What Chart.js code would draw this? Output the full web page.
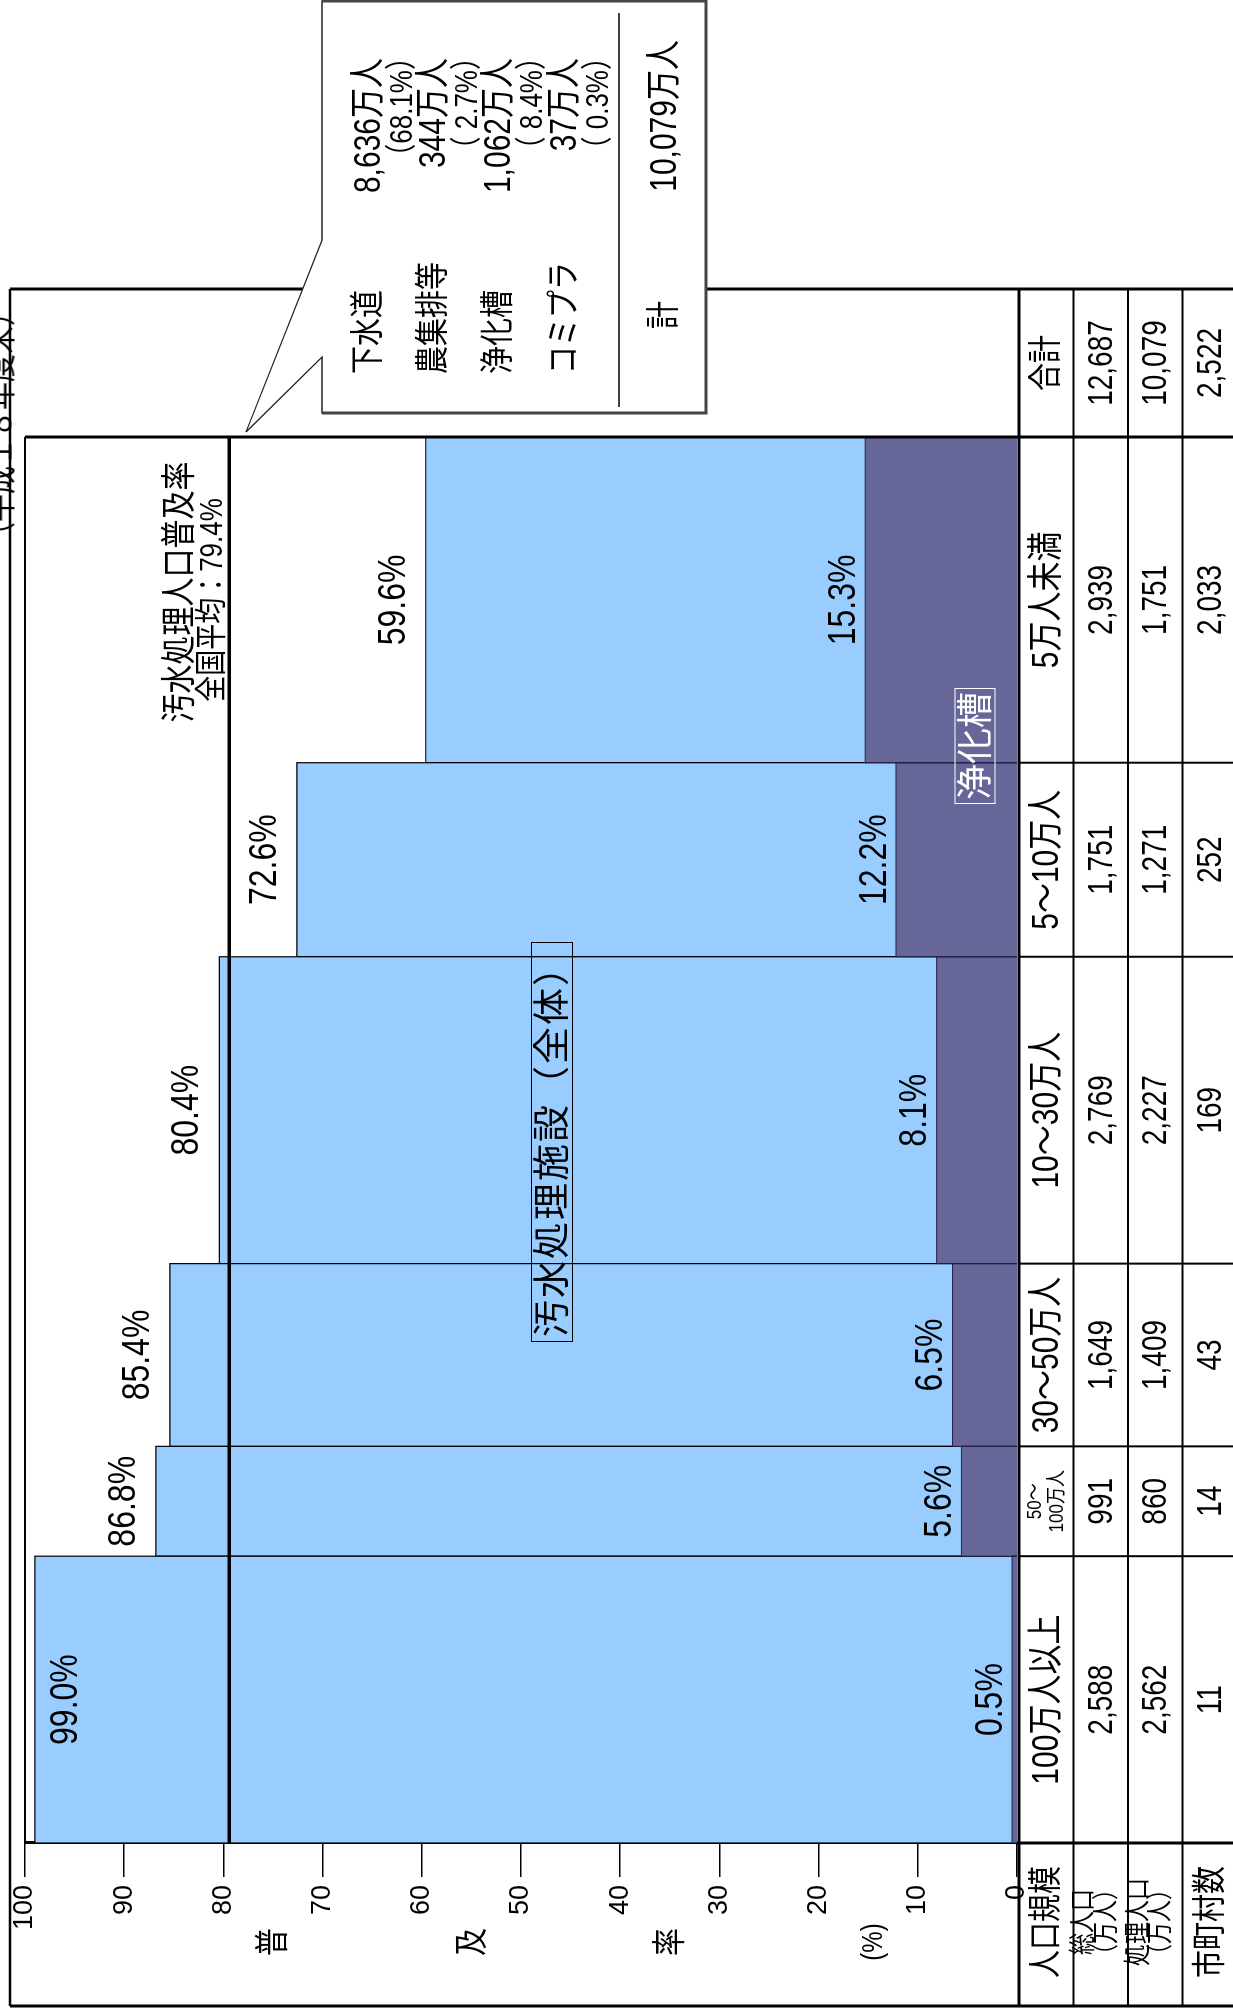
<!DOCTYPE html>
<html lang="ja">
<head>
<meta charset="utf-8">
<title>人口規模別汚水処理人口普及率</title>
<script src="https://cdn.jsdelivr.net/npm/chart.js@4.4.1/dist/chart.umd.min.js"></script>
<style>
html, body { margin: 0; padding: 0; background: #fff; }
body { width: 1233px; height: 2010px; overflow: hidden; position: relative; }
/* the chart is laid out landscape and turned a quarter to the left */
#stage {
  position: absolute; left: 0; top: 0; width: 2010px; height: 1233px;
  transform-origin: 0 0; transform: translate(0, 2010px) rotate(-90deg);
  font-family: "Liberation Sans", "Noto Sans CJK JP", sans-serif; color: #000;
}
#stage canvas, #stage svg { position: absolute; left: 0; top: 0; }
.t { position: absolute; white-space: nowrap; line-height: 1; }
</style>
</head>
<body>
<div id="stage">
  <canvas id="chart" width="2010" height="1233"></canvas>
  <svg id="lines" width="2010" height="1233"></svg>
  <div id="texts"></div>
  <svg id="callout" width="2010" height="1233"></svg>
  <div id="calloutTexts"></div>
</div>
<script>
const categories = ['100万人以上', '50～100万人', '30～50万人', '10～30万人', '5～10万人', '5万人未満'];
const totalPopulation = [2588, 991, 1649, 2769, 1751, 2939];     // 総人口（万人）
const treatedPopulation = [2562, 860, 1409, 2227, 1271, 1751];   // 処理人口（万人）
const municipalities = [11, 14, 43, 169, 252, 2033];              // 市町村数
const coverageRate = [99.0, 86.8, 85.4, 80.4, 72.6, 59.6];        // 汚水処理人口普及率（%）
const septicRate = [0.5, 5.6, 6.5, 8.1, 12.2, 15.3];              // うち浄化槽（%）
const totalColumn = [12687, 10079, 2522];                         // 合計
const nationalAverage = 79.4;
const rateTicks = [0, 10, 20, 30, 40, 50, 60, 70, 80, 90, 100];

const breakdownLabels = ['下水道', '農集排等', '浄化槽', 'コミプラ'];
const breakdownPopulation = [8636, 344, 1062, 37];
const breakdownShare = [68.1, 2.7, 8.4, 0.3];
const breakdownTotal = 10079;

const FONT = '"Liberation Sans", "Noto Sans CJK JP", sans-serif';
const BLUE = '#99CCFF';
const PURPLE = '#666699';
const STRETCH = 1.22; // the source text is drawn taller than it is wide

// bar widths follow the population of each class
const edges = [0];
totalPopulation.forEach(p => edges.push(edges[edges.length - 1] + p));

function block(i, rate) {
  return [
    { x: edges[i], y: 0 }, { x: edges[i], y: rate },
    { x: edges[i + 1], y: rate }, { x: edges[i + 1], y: 0 }
  ];
}

const datasets = [{
  data: [{ x: 0, y: nationalAverage }, { x: edges[edges.length - 1], y: nationalAverage }],
  borderColor: '#000', borderWidth: 3.5, fill: false, order: 0
}];
categories.forEach((c, i) => {
  datasets.push({ data: block(i, septicRate[i]), backgroundColor: PURPLE, borderColor: '#222244',
    borderWidth: 1, fill: 'origin', order: 1 });
});
categories.forEach((c, i) => {
  datasets.push({ data: block(i, coverageRate[i]), backgroundColor: BLUE, borderColor: '#000',
    borderWidth: 1.2, fill: 'origin', order: 2 });
});

function stretchedText(ctx, str, x, y) {
  ctx.save();
  ctx.translate(x, y);
  ctx.scale(1, STRETCH);
  ctx.fillText(str, 0, 0);
  ctx.restore();
}

const barLabels = {
  id: 'barLabels',
  afterDatasetsDraw(chart) {
    const { ctx, scales: { x, y } } = chart;
    ctx.save();
    ctx.font = '32px ' + FONT;
    ctx.fillStyle = '#000';
    ctx.textAlign = 'center';
    ctx.textBaseline = 'middle';
    categories.forEach((c, i) => {
      const cx = x.getPixelForValue(edges[i] + totalPopulation[i] / 2);
      const top = y.getPixelForValue(coverageRate[i]);
      stretchedText(ctx, coverageRate[i].toFixed(1) + '%', cx, coverageRate[i] > 95 ? top + 31 : top - 32);
      stretchedText(ctx, septicRate[i].toFixed(1) + '%', cx, y.getPixelForValue(septicRate[i]) - 21);
    });
    ctx.restore();
  }
};

const chart = new Chart(document.getElementById('chart'), {
  type: 'line',
  data: { datasets: datasets },
  options: {
    responsive: false,
    animation: false,
    devicePixelRatio: 1,
    layout: { padding: { left: 0, top: 25, right: 437, bottom: 216 } },
    elements: { point: { radius: 0 }, line: { tension: 0 } },
    plugins: { legend: { display: false }, tooltip: { enabled: false } },
    scales: {
      x: { type: 'linear', min: 0, max: edges[edges.length - 1], display: false },
      y: {
        min: 0, max: 100,
        afterFit: s => { s.width = 167; },
        afterBuildTicks: s => { s.ticks = rateTicks.map(v => ({ value: v })); },
        ticks: { font: { size: 27, family: FONT }, color: '#000', padding: 8 },
        grid: { drawOnChartArea: false, tickLength: 34, color: '#000', lineWidth: 1.5 },
        border: { color: '#000', width: 3 }
      }
    }
  },
  plugins: [barLabels]
});

// ---- frame, table grid ----
const xs = chart.scales.x, ys = chart.scales.y;
const area = chart.chartArea;
const colX = edges.map(e => xs.getPixelForValue(e));
const headL = 4, totalR = 1721;
const rowV = [1019, 1073.5, 1128, 1182.5, 1237];

let svg = '';
function line(x1, y1, x2, y2, w) {
  svg += `<line x1="${x1}" y1="${y1}" x2="${x2}" y2="${y2}" stroke="#000" stroke-width="${w}"/>`;
}
line(headL, 10, headL, 1240, 3);
line(headL, 10, totalR, 10, 2.5);
line(totalR, 10, totalR, 1240, 3);
line(area.left, area.top, area.right, area.top, 2);
line(area.left, area.bottom, area.left, 1240, 3);
line(area.right, area.top, area.right, 1240, 3);
rowV.forEach((v, k) => line(headL, v, totalR, v, k === 0 ? 3 : 2));
colX.slice(1, -1).forEach(u => line(u, rowV[0], u, 1240, 2));
document.getElementById('lines').innerHTML = svg;

const texts = document.getElementById('texts');
function put(parent, str, u, v, size, align, extra, sy) {
  const d = document.createElement('div');
  d.className = 't';
  d.textContent = str;
  const tx = align === 'left' ? '0' : align === 'right' ? '-100%' : '-50%';
  const s = sy === undefined ? STRETCH : sy;
  d.style.cssText = `left:${u}px;top:${v}px;font-size:${size}px;` +
    `transform:translate(${tx},-50%) scale(1,${s});${extra || ''}`;
  parent.appendChild(d);
  return d;
}
const fmt = n => n.toLocaleString('en-US');

// table
const rowMid = [1046, 1101, 1155, 1210];
const headU = 88;
put(texts, '人口規模', headU, rowMid[0], 28);
put(texts, '総人口', headU, 1083, 22);
put(texts, '（万人）', headU, 1106, 22);
put(texts, '処理人口', headU, 1138, 22);
put(texts, '（万人）', headU, 1160, 22);
put(texts, '市町村数', headU, rowMid[3], 28);

categories.forEach((c, i) => {
  const cu = (colX[i] + colX[i + 1]) / 2;
  if (colX[i + 1] - colX[i] < 140) {
    const k = c.indexOf('～') + 1;
    put(texts, c.slice(0, k), cu, 1034, 17);
    put(texts, c.slice(k), cu, 1056, 17);
  } else {
    put(texts, c, cu, rowMid[0], 30);
  }
  put(texts, fmt(totalPopulation[i]), cu, rowMid[1], 28);
  put(texts, fmt(treatedPopulation[i]), cu, rowMid[2], 28);
  put(texts, fmt(municipalities[i]), cu, rowMid[3], 28);
});
const totU = (area.right + totalR) / 2;
put(texts, '合計', totU, rowMid[0], 28);
totalColumn.forEach((n, k) => put(texts, fmt(n), totU, rowMid[k + 1], 28));

// axis title
const titleV = [273, 472, 670];
'普及率'.split('').forEach((ch, k) => put(texts, ch, 68, titleV[k], 28));
put(texts, '(%)', 68, 872, 24);

// notes inside the plot
put(texts, '（平成１８年度末）', 1712, 0, 28, 'right');
const avgV = ys.getPixelForValue(nationalAverage);
put(texts, '汚水処理人口普及率', 1418, avgV - 50, 29);
put(texts, '全国平均：' + nationalAverage + '%', 1410, avgV - 18, 26);
put(texts, '汚水処理施設（全体）', 868, 552, 37, 'center',
  'border:1.5px solid #000;padding:2px 4px 1px;letter-spacing:2px;', 1);
put(texts, '浄化槽', 1264, 975, 36, 'center',
  'color:#fff;border:1.5px solid #fff;padding:2px 3px 1px;', 1);

// ---- callout with the national breakdown ----
const tipU = 1578, tipV = 246;
const boxL = 1597, boxR = 2009, boxT = 322, boxB = 706;
document.getElementById('callout').innerHTML =
  `<path d="M${boxL},${boxT} L1653,${boxT} L${tipU},${tipV} L1770,${boxT} L${boxR},${boxT} L${boxR},${boxB} L${boxL},${boxB} Z" fill="#fff" stroke="#222" stroke-width="1.3"/>` +
  `<polyline points="${boxL},${boxT} ${boxL},${boxB} ${boxR},${boxB} ${boxR},${boxT}" fill="none" stroke="#444" stroke-width="3"/>` +
  `<line x1="1603" y1="619" x2="1997" y2="619" stroke="#000" stroke-width="1.5"/>`;

const ct = document.getElementById('calloutTexts');
const popV = [368, 433, 498, 564];
breakdownLabels.forEach((lab, k) => {
  put(ct, lab, 1636, popV[k], 28, 'left');
  put(ct, fmt(breakdownPopulation[k]) + '万人', 1952, popV[k], 30, 'right');
  const s = breakdownShare[k];
  put(ct, '（' + (s < 10 ? ' ' : '') + s.toFixed(1) + '%）', 1966, popV[k] + 33, 26, 'right');
});
put(ct, '計', 1695, 664, 28);
put(ct, fmt(breakdownTotal) + '万人', 1970, 664, 30, 'right');
</script>
</body>
</html>
